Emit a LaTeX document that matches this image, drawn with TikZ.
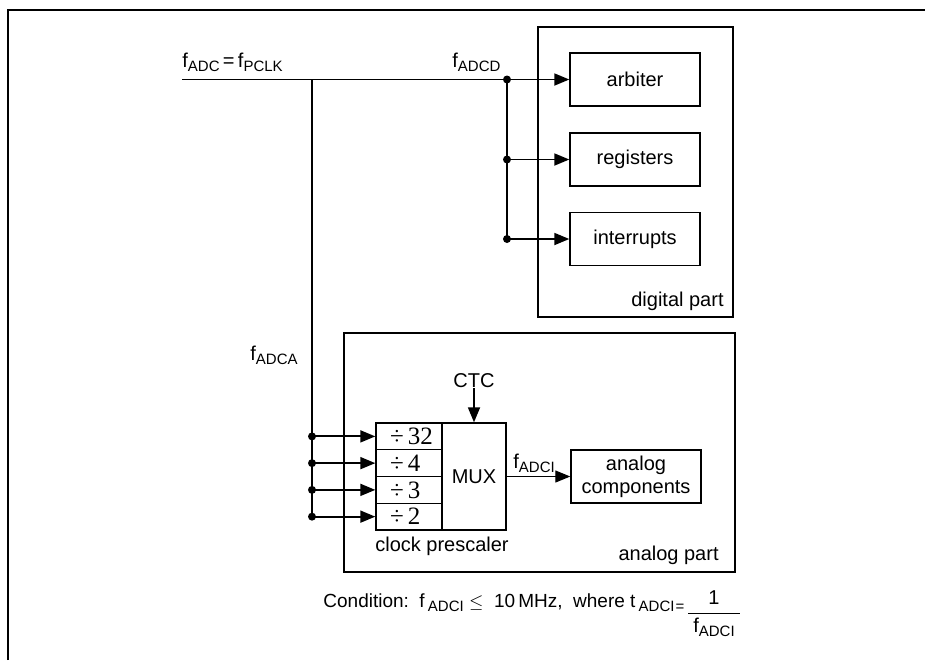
\documentclass[tikz,border=0pt]{standalone}
\usepackage{fontspec}
\setmainfont{Liberation Sans}
\newfontfamily\divfont{Liberation Serif}
\usepackage{amsmath}
\usetikzlibrary{arrows.meta,positioning}

\newcommand{\sbs}[1]{\raisebox{-2pt}{\fontsize{7.5}{8}\selectfont #1}}

\tikzset{
  unit/.style={draw,line width=0.7pt,inner sep=0pt,align=center,
    minimum width=65pt,minimum height=26.5pt},
  part/.style={draw,line width=0.7pt,inner sep=0pt},
  divrow/.style={draw,line width=0.7pt,inner sep=0pt,minimum height=13.375pt,
    text width=33pt,align=left,font=\divfont\fontsize{12.5}{12.5}\selectfont},
  wire/.style={line width=0.6pt},
  feed/.style={line width=0.9pt,-{Triangle[length=7.5pt,width=6pt]}},
  tapdot/.style={circle,fill,inner sep=0pt,minimum size=4pt},
  lbl/.style={inner sep=0pt}
}

\begin{document}
\begin{tikzpicture}[x=0.5pt,y=-0.5pt,font=\fontsize{10}{11.5}\selectfont]
\useasboundingbox (0,0) rectangle (925,660);

% frame
\draw[line width=1.3pt] (8,660) -- (8,10) -- (925,10);

% digital part
\node[part,minimum width=97.5pt,minimum height=145pt] (digital) at (635.5,172) {};
\node[lbl,anchor=base east] (digitallbl) at (724,306) {digital part};

\node[unit] (arbiter) at (635,79.5) {arbiter};
\node[unit] (registers) at (635,159.5) {registers};
\node[unit] (interrupts) at (635,239) {interrupts};

% analog part
\node[part,minimum width=195.5pt,minimum height=119.5pt] (analog) at (539.5,452.5) {};
\node[lbl,anchor=base east] (analoglbl) at (719,560) {analog part};

\node[divrow] (div32) at (409,436.375) {\hspace*{7pt}÷\,32};
\node[divrow] (div4) at (409,463.125) {\hspace*{7pt}÷\,4};
\node[divrow] (div3) at (409,489.875) {\hspace*{7pt}÷\,3};
\node[divrow] (div2) at (409,516.625) {\hspace*{7pt}÷\,2};
\node[part,minimum width=32pt,minimum height=53.5pt] (mux) at (474,476.5) {MUX};
\node[lbl] (presclbl) at (442,546) {clock prescaler};
\node[lbl] (ctc) at (474,381) {CTC};
\node[unit] (comp) at (636,476.5) {analog\\components};

% clock lines
\coordinate (src) at (182,79.5);
\coordinate (tap) at (312,79.5);
\coordinate (dj) at (507,79.5);

\node[lbl,anchor=base west] (fadc) at (182,67) {f\sbs{ADC}\,=\,f\sbs{PCLK}};
\node[lbl,anchor=base west] (fadcd) at (452,67) {f\sbs{ADCD}};
\node[lbl,anchor=base east] (fadca) at (298,360) {f\sbs{ADCA}};
\node[lbl,anchor=south west] (fadci) at (513,473) {f\sbs{ADCI}};

\draw[wire] (src) -- (dj);
\draw[line width=0.9pt] (dj) -- (interrupts.west -| dj);
\draw[wire] (tap) -- (div2.west -| tap);

\draw[feed] (dj) -- (arbiter.west);
\draw[feed] (registers.west -| dj) -- (registers.west);
\draw[feed] (interrupts.west -| dj) -- (interrupts.west);
\node[tapdot] at (dj) {};
\node[tapdot] at (registers.west -| dj) {};
\node[tapdot] at (interrupts.west -| dj) {};

\foreach \r in {div32,div4,div3,div2}{
  \draw[feed] (\r.west -| tap) -- (\r.west);
  \node[tapdot] at (\r.west -| tap) {};
}

\draw[feed] (ctc) -- (mux.north);
\draw[feed,line width=0.6pt] (mux.east) -- (comp.west);

% condition
\node[lbl,anchor=base west,font=\fontsize{9.5}{11}\selectfont] (cond) at (323,607)
  {Condition:\ \ f\,\sbs{ADCI}\ $\leq$\ \ 10\,MHz,\ \ where t\,\sbs{ADCI\kern0.5pt=}};
\node[lbl] (frac) at (714,614)
  {$\genfrac{}{}{0.7pt}{0}{\hbox{1}}{\hbox to 26pt{\hss f\sbs{ADCI}\hss}}$};

\end{tikzpicture}
\end{document}
